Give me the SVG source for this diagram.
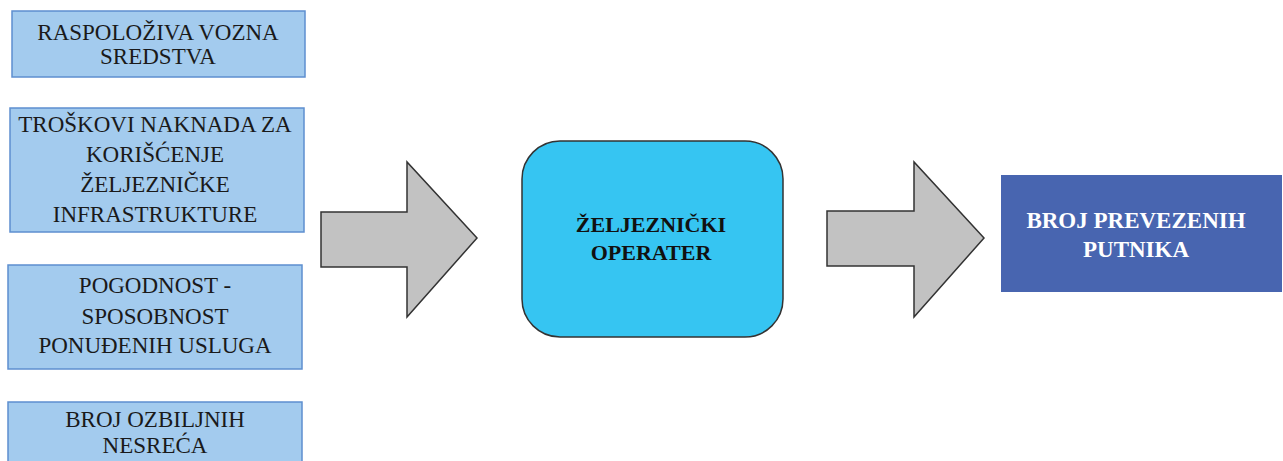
<svg xmlns="http://www.w3.org/2000/svg" width="1283" height="461" viewBox="0 0 1283 461">
<style>
.in{fill:#a3cbee;stroke:#5e8fcf;stroke-width:1.5}
.t{font-family:"Liberation Serif",serif;font-size:23px;fill:#1a1a1a;text-anchor:middle}
.b{font-family:"Liberation Serif",serif;font-size:22px;font-weight:bold;text-anchor:middle}
.w{font-size:23px}
.arr{fill:#c2c2c2;stroke:#333;stroke-width:1.5;stroke-linejoin:miter}
</style>
<rect width="1283" height="461" fill="#fff"/>
<g id="n1"><rect class="in" x="12" y="11" width="293" height="66"/>
<text class="t" x="158" y="40">RASPOLOŽIVA VOZNA</text><text class="t" x="158" y="64">SREDSTVA</text></g>
<g id="n2"><rect class="in" x="10" y="108" width="294" height="124"/>
<text class="t" x="155" y="132">TROŠKOVI NAKNADA ZA</text><text class="t" x="155" y="162">KORIŠĆENJE</text><text class="t" x="155" y="192">ŽELJEZNIČKE</text><text class="t" x="155" y="222">INFRASTRUKTURE</text></g>
<g id="n3"><rect class="in" x="8" y="265" width="294" height="104"/>
<text class="t" x="155" y="293">POGODNOST -</text><text class="t" x="155" y="324">SPOSOBNOST</text><text class="t" x="155" y="353">PONUĐENIH USLUGA</text></g>
<g id="n4"><rect class="in" x="8" y="402" width="294" height="70"/>
<text class="t" x="155" y="427">BROJ OZBILJNIH</text><text class="t" x="155" y="453">NESREĆA</text></g>
<g id="connectors">
<polygon class="arr" points="321,212 407,212 407,162 477,238 407,317 407,267 321,267"/>
<polygon class="arr" points="827,211 914,211 914,162 984,238 914,317 914,266 827,266"/>
</g>
<g id="op"><rect x="522" y="141" width="261" height="196" rx="38" ry="38" fill="#36c5f2" stroke="#333" stroke-width="1.5"/>
<text class="b" x="651" y="232" fill="#111">ŽELJEZNIČKI</text><text class="b" x="651" y="260" fill="#111">OPERATER</text></g>
<g id="out"><rect x="1001" y="175" width="281" height="117" fill="#4865b0"/>
<text class="b w" x="1136" y="228" fill="#fff">BROJ PREVEZENIH</text><text class="b w" x="1136" y="257" fill="#fff">PUTNIKA</text></g>
</svg>
